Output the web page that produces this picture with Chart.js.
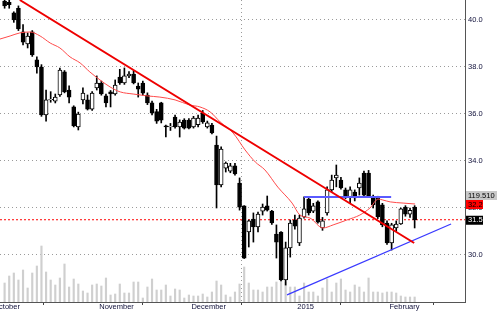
<!DOCTYPE html>
<html>
<head>
<meta charset="utf-8">
<script src="https://cdn.jsdelivr.net/npm/chart.js@4.4.1/dist/chart.umd.min.js"></script>
<style>
  html, body { margin: 0; padding: 0; background: #fff; }
</style>
</head>
<body>
<canvas id="chart" width="500" height="312"></canvas>
<script>
// daily sessions, index 0 = first visible candle (early October)
const opens = [40.81, 40.75, 40.30, 40.50, 39.50, 38.98, 39.50, 38.30, 38.00, 35.96,
  36.60, 36.55, 36.81, 37.79, 37.02, 36.30, 35.45, 36.60, 36.60, 36.21,
  37.11, 37.32, 36.77, 36.94, 36.85, 37.57, 37.32, 37.62, 37.70, 37.19,
  37.32, 36.81, 36.47, 36.10, 36.47, 35.50, 35.45, 35.87, 35.45, 35.74,
  35.74, 35.45, 35.55, 36.04, 35.45, 35.53, 34.68, 32.98, 33.70, 33.57,
  33.79, 33.06, 32.09, 30.98, 31.53, 31.19, 31.87, 32.09, 31.87, 30.89,
  30.98, 28.94, 30.30, 31.49, 30.51, 31.62, 32.38, 31.87, 32.26, 31.15,
  31.79, 32.77, 33.28, 33.19, 32.77, 32.47, 32.68, 32.85, 33.49, 33.49,
  32.47, 32.43, 32.13, 31.36, 30.51, 31.15, 31.32, 32.04, 31.74, 32.04];
const highs = [40.90, 40.85, 40.35, 40.60, 39.80, 39.45, 39.55, 38.43, 38.10, 37.02,
  36.95, 36.85, 37.95, 37.85, 37.20, 36.35, 36.08, 37.11, 36.81, 36.95,
  37.62, 37.40, 36.85, 37.00, 37.45, 37.90, 37.96, 37.80, 37.85, 37.32,
  37.40, 36.90, 36.55, 36.20, 36.50, 35.53, 35.60, 35.95, 35.75, 35.80,
  35.80, 35.90, 35.95, 36.15, 35.70, 35.60, 35.06, 34.60, 33.96, 33.90,
  33.90, 33.28, 32.10, 31.49, 31.79, 31.83, 32.17, 32.51, 31.90, 31.28,
  31.00, 30.55, 31.49, 31.70, 31.70, 32.47, 32.47, 32.20, 32.30, 31.60,
  32.90, 33.40, 33.83, 33.30, 32.85, 32.90, 32.77, 33.28, 33.57, 33.60,
  32.55, 32.50, 32.20, 31.45, 31.35, 31.45, 32.00, 32.10, 32.00, 32.10];
const lows = [40.50, 40.50, 39.90, 39.55, 38.94, 38.81, 38.45, 37.74, 35.90, 35.70,
  36.50, 36.47, 36.75, 36.90, 36.47, 35.45, 35.32, 36.43, 36.17, 36.15,
  37.02, 36.80, 36.30, 36.30, 36.80, 37.26, 37.26, 37.55, 37.28, 36.72,
  36.80, 36.40, 35.96, 35.60, 35.62, 35.02, 35.30, 35.40, 35.02, 35.36,
  35.36, 35.40, 35.45, 35.60, 35.40, 35.15, 32.00, 32.90, 33.53, 33.50,
  33.40, 31.91, 29.85, 30.34, 30.55, 30.98, 31.70, 31.87, 31.30, 29.87,
  28.90, 28.72, 29.91, 31.10, 30.40, 31.57, 31.70, 31.80, 31.35, 31.05,
  31.70, 32.70, 32.90, 32.80, 32.40, 32.20, 32.30, 32.55, 32.50, 32.45,
  32.00, 31.55, 31.20, 30.45, 30.21, 31.00, 31.30, 31.65, 31.60, 31.15];
const closes = [40.60, 40.65, 40.00, 39.62, 39.06, 39.32, 38.51, 38.00, 35.96, 36.60,
  36.62, 36.72, 37.87, 36.94, 36.72, 35.49, 36.00, 36.89, 36.21, 36.89,
  37.32, 36.85, 36.47, 36.85, 37.23, 37.32, 37.62, 37.70, 37.32, 37.06,
  36.89, 36.47, 36.04, 35.70, 35.74, 35.45, 35.47, 35.45, 35.66, 35.40,
  35.40, 35.83, 35.83, 35.66, 35.62, 35.19, 32.98, 34.51, 33.91, 33.79,
  33.45, 32.04, 29.87, 31.45, 31.19, 31.74, 32.04, 31.91, 31.36, 30.55,
  28.94, 30.30, 31.36, 31.23, 31.57, 31.96, 31.79, 32.09, 31.40, 31.45,
  32.77, 33.19, 33.40, 32.85, 32.47, 32.77, 32.43, 33.06, 32.55, 32.51,
  32.13, 31.62, 31.28, 30.51, 31.28, 31.32, 31.96, 31.74, 31.90, 31.50];
const volumes = [19, 26, 29, 22, 32, 14, 29, 36, 56, 30,
  22, 17, 24, 38, 15, 23, 18, 11, 9, 17,
  18, 16, 24, 7, 8, 18, 9, 9, 20, 20,
  4, 15, 23, 12, 12, 17, 6, 13, 12, 4,
  7, 6, 6, 8, 5, 10, 21, 17, 7, 5,
  10, 18, 35, 19, 12, 12, 10, 15, 15, 20,
  23, 20, 15, 15, 6, 19, 10, 10, 6, 14,
  23, 10, 19, 23, 12, 10, 17, 15, 10, 24,
  10, 10, 9, 10, 10, 9, 6, 5, 5, 5];

// moving average (session index, price)
const maIdx = [-1.0, 1.2, 3.3, 5.5, 7.7, 9.9, 12.0, 14.2, 16.4, 18.5, 20.7, 22.9, 25.1, 27.9, 30.9,
  33.7, 37.0, 40.2, 42.4, 44.6, 46.8, 49.6, 52.2, 54.4, 56.5, 59.3, 62.4, 64.1, 66.3, 69.1,
  71.3, 74.3, 77.1, 79.3, 81.1, 82.1, 83.7, 86.5, 89.1];
const maVal = [39.19, 39.32, 39.45, 39.49, 39.32, 39.02, 38.81, 38.43, 38.17, 37.79, 37.45, 37.15, 36.94, 36.85, 36.77,
  36.72, 36.60, 36.38, 36.30, 36.09, 35.66, 35.19, 34.47, 33.96, 33.62, 32.89, 32.21, 31.70, 31.57, 31.15,
  31.28, 31.49, 31.70, 32.00, 32.38, 32.34, 32.26, 32.21, 32.17];

// drawn trend lines: [index, price] end points
const downTrend = [[3.3, 40.85], [88.9, 30.51]];
const upTrend = [[61.3, 28.30], [96.9, 31.32]];
const resistance = [[65.0, 32.47], [83.9, 32.47]];

const monthPos = [-3, 20, 40, 63, 83];
const monthLabels = ['October', 'November', 'December', '2015', 'February'];
const yearPos = 63;
const priceTicks = [30, 32, 34, 36, 38, 40];
const volTag = '119.510';

const xMin = -1.0, xMax = 99.93;
const font = '"Liberation Sans", Arial, sans-serif';
const textCol = '#10103a';

const idx = closes.map((_, i) => i);
const lastClose = closes[closes.length - 1];
const lastMa = maVal[maVal.length - 1];

const noPad = s => {
    s.paddingLeft = 0; s.paddingRight = 0; s.paddingTop = 0; s.paddingBottom = 0;
};

const priceTags = {
    id: 'priceTags',
    afterDraw(chart) {
        const { ctx, scales: { y } } = chart;
        const yMa = y.getPixelForValue(lastMa);
        const yLast = y.getPixelForValue(lastClose);
        ctx.save();
        ctx.font = '7.5px ' + font;
        ctx.textBaseline = 'middle';
        ctx.textAlign = 'left';

        ctx.fillStyle = '#c8c8c8';
        ctx.fillRect(466, yMa - 13, 31, 9);
        ctx.fillStyle = '#000';
        ctx.fillText(volTag, 468, yMa - 8.5);

        ctx.fillStyle = '#ff0000';
        ctx.fillRect(466, yMa - 4, 17, 9);
        ctx.fillStyle = '#000';
        ctx.fillText(lastMa.toFixed(1), 468, yMa + 0.5);

        ctx.fillStyle = '#000';
        ctx.fillRect(466, yLast - 4, 17, 9);
        ctx.fillStyle = '#fff';
        ctx.fillText(lastClose.toFixed(1), 468, yLast + 0.5);
        ctx.restore();
    }
};

new Chart(document.getElementById('chart'), {
    type: 'bar',
    data: {
        datasets: [
            {
                type: 'line', order: 0,
                data: downTrend.map(p => ({ x: p[0], y: p[1] })),
                borderColor: '#ee0000', borderWidth: 2, pointRadius: 0
            },
            {
                type: 'line', order: 0,
                data: upTrend.map(p => ({ x: p[0], y: p[1] })),
                borderColor: '#3a3aff', borderWidth: 1.3, pointRadius: 0
            },
            {
                type: 'line', order: 0,
                data: resistance.map(p => ({ x: p[0], y: p[1] })),
                borderColor: '#5a5aff', borderWidth: 2, pointRadius: 0
            },
            {
                type: 'line', order: 1,
                data: maIdx.map((v, i) => ({ x: v, y: maVal[i] })),
                borderColor: '#ff4a4a', borderWidth: 1, pointRadius: 0,
                cubicInterpolationMode: 'monotone'
            },
            {
                order: 2, grouped: false,
                data: idx.map(i => ({ x: i, y: [opens[i], closes[i]] })),
                backgroundColor: idx.map(i => closes[i] >= opens[i] ? '#ffffff' : '#000000'),
                borderColor: '#000', borderWidth: 1, borderSkipped: false,
                barThickness: 4
            },
            {
                order: 3, grouped: false,
                data: idx.map(i => ({ x: i, y: [lows[i], highs[i]] })),
                backgroundColor: '#000', barThickness: 1
            },
            {
                type: 'line', order: 4,
                data: [{ x: xMin, y: lastClose }, { x: xMax, y: lastClose }],
                borderColor: '#ff0000', borderWidth: 1, borderDash: [2, 2], pointRadius: 0
            },
            {
                order: 5, grouped: false, yAxisID: 'yv',
                data: idx.map(i => ({ x: i, y: volumes[i] })),
                backgroundColor: '#cfcfcf', barThickness: 1.5
            }
        ]
    },
    options: {
        responsive: false,
        animation: false,
        layout: { padding: 0 },
        plugins: { legend: { display: false }, tooltip: { enabled: false } },
        scales: {
            x: {
                type: 'linear', min: xMin, max: xMax, offset: false,
                afterBuildTicks: s => { s.ticks = monthPos.map(v => ({ value: v })); },
                afterFit: s => { s.height = 10; noPad(s); },
                grid: {
                    color: c => (c.tick && c.tick.value === yearPos) ? '#9a9a9a' : 'rgba(0,0,0,0)',
                    tickColor: '#444', tickLength: 3
                },
                border: { display: true, color: '#555', dash: [1, 3] },
                ticks: {
                    autoSkip: false, maxRotation: 0, align: 'start', labelOffset: 2.5, padding: -3,
                    color: textCol, font: { family: font, size: 7.5 },
                    callback: (v, i) => monthLabels[i]
                }
            },
            y: {
                position: 'right', min: 28, max: 40.851,
                afterBuildTicks: s => { s.ticks = priceTicks.map(v => ({ value: v })); },
                afterFit: s => { s.width = 35; noPad(s); },
                grid: { color: '#9a9a9a', drawTicks: false },
                border: { display: true, color: '#555', dash: [1, 3] },
                ticks: {
                    padding: 3, color: textCol, font: { family: font, size: 7.5 },
                    callback: v => v.toFixed(1)
                }
            },
            yv: { display: false, min: 0, max: 302 }
        }
    },
    plugins: [priceTags]
});
</script>
</body>
</html>
